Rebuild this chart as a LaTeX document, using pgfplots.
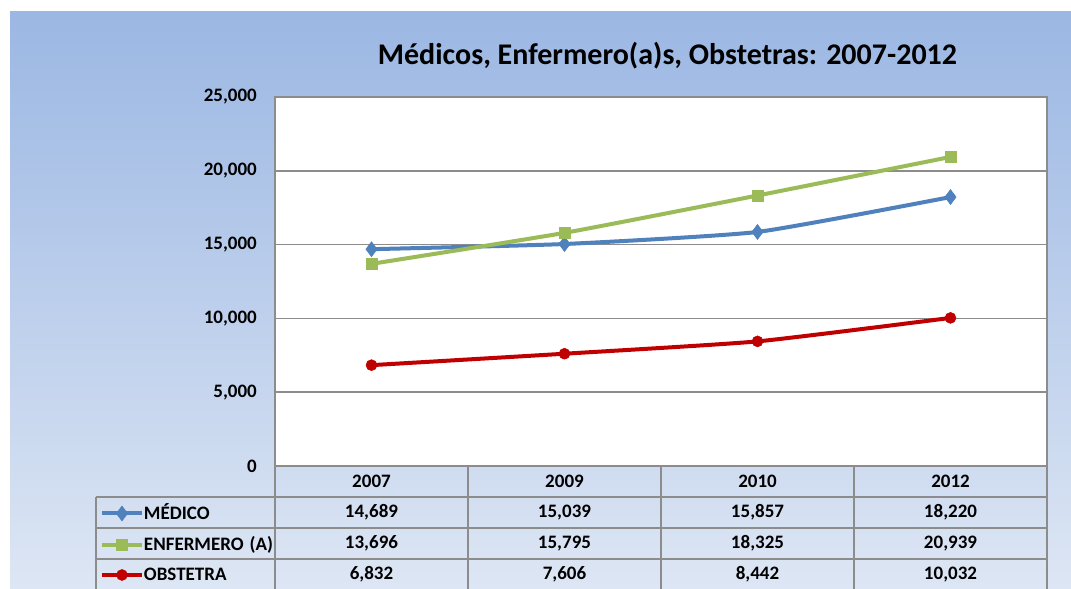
\documentclass[border=0pt]{standalone}
\usepackage{fontspec}
\setmainfont{Carlito}
\usepackage{pgfplots}
\pgfplotsset{compat=1.18}

\definecolor{medico}{HTML}{4F81BD}
\definecolor{enfermero}{HTML}{9BBB59}
\definecolor{obstetra}{HTML}{C00000}
\definecolor{gridgray}{HTML}{8C8C8C}
\definecolor{bgtop}{RGB}{155,183,227}
\definecolor{bgbot}{RGB}{221,230,244}

\newcommand{\lbl}{\fontsize{19bp}{22bp}\selectfont\bfseries}

\begin{document}
\begin{tikzpicture}[x=1bp,y=1bp]
\path[use as bounding box] (0,0) rectangle (1071,589);
\fill[white] (0,0) rectangle (1071,589);
\shade[top color=bgtop,bottom color=bgbot] (10,0) rectangle (1071,577);

% title
\node[anchor=base,inner sep=0pt,font=\fontsize{30bp}{36bp}\selectfont\bfseries]
  at (667.5,524) {Médicos, Enfermero(a)s, Obstetras: 2007-2012};

% data table grid
\begin{scope}[draw=gridgray,line width=1.5bp]
  \foreach \x in {275,468,661,854,1047} \draw (\x,0) -- (\x,123);
  \draw (96,0) -- (96,92);
  \draw (96,92) -- (1047,92);
  \draw (96,61) -- (1047,61);
  \draw (96,30) -- (1047,30);
\end{scope}

% data table values
\begin{scope}[every node/.style={anchor=base,inner sep=0pt,font=\lbl}]
  \node at (371.5,71) {14,689}; \node at (564.5,71) {15,039};
  \node at (757.5,71) {15,857}; \node at (950.5,71) {18,220};
  \node at (371.5,40) {13,696}; \node at (564.5,40) {15,795};
  \node at (757.5,40) {18,325}; \node at (950.5,40) {20,939};
  \node at (371.5,9) {6,832};  \node at (564.5,9) {7,606};
  \node at (757.5,9) {8,442};  \node at (950.5,9) {10,032};
\end{scope}

\begin{axis}[
    at={(275bp,123bp)}, anchor=south west,
    scale only axis, width=772bp, height=369bp,
    xmin=-0.5, xmax=3.5, ymin=0, ymax=25000,
    xtick={0,1,2,3}, xticklabels={2007,2009,2010,2012},
    ytick={0,5000,10000,15000,20000,25000},
    scaled y ticks=false,
    /pgf/number format/.cd, fixed, 1000 sep={,}, assume math mode=true,
    /pgfplots/.cd,
    major tick length=0pt,
    ymajorgrids, grid style={gridgray,line width=1.5bp},
    axis line style={gridgray,line width=1.5bp},
    axis background/.style={fill=white},
    tick label style={font=\lbl},
    xticklabel style={anchor=center,yshift=-15bp},
    yticklabel style={anchor=east,inner sep=0pt,xshift=-18bp},
    legend image code/.code={
      \draw[yshift=6bp,mark repeat=2,mark phase=2,#1]
        plot coordinates {(0bp,0bp) (20bp,0bp) (40bp,0bp)};},
    legend style={draw=none,fill=none,inner sep=0pt,outer sep=0pt,
      at={(-0.2267,-0.1084)}, anchor=north west,
      row sep=18bp, column sep=0pt,
      nodes={inner sep=0pt,text height=12bp,text depth=0bp,font=\lbl,
             anchor=base west}},
    legend cell align=left,
    every axis plot/.append style={line width=4bp, smooth, tension=0.3},
  ]
  \addplot[medico, mark=diamond*, mark size=7.5bp, mark options={line width=0.5bp}]
    coordinates {(0,14689) (1,15039) (2,15857) (3,18220)};
  \addlegendentry{MÉDICO}
  \addplot[enfermero, mark=square*, mark size=5.5bp, mark options={line width=0.5bp}]
    coordinates {(0,13696) (1,15795) (2,18325) (3,20939)};
  \addlegendentry{ENFERMERO\hspace{6bp}(A)}
  \addplot[obstetra, mark=*, mark size=5.5bp, mark options={line width=0.5bp}]
    coordinates {(0,6832) (1,7606) (2,8442) (3,10032)};
  \addlegendentry{OBSTETRA}
\end{axis}
\end{tikzpicture}
\end{document}
